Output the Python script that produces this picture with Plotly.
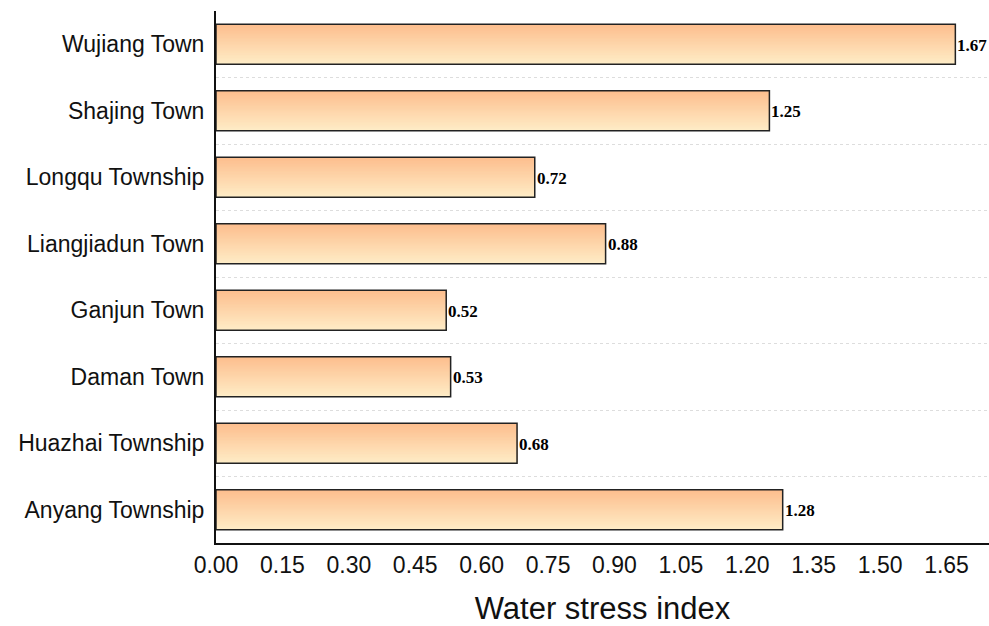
import plotly.graph_objects as go

towns = ["Wujiang Town", "Shajing Town", "Longqu Township", "Liangjiadun Town",
         "Ganjun Town", "Daman Town", "Huazhai Township", "Anyang Township"]
wsi = [1.67, 1.25, 0.72, 0.88, 0.52, 0.53, 0.68, 1.28]
x_ticks = [0.00, 0.15, 0.30, 0.45, 0.60, 0.75, 0.90, 1.05, 1.20, 1.35, 1.50, 1.65]

TOP = (253, 190, 142)
BOT = (254, 236, 198)
N = 40
BW = 0.6

fig = go.Figure()
for k in range(N):
    t = k / (N - 1)
    c = tuple(round(TOP[i] + (BOT[i] - TOP[i]) * t) for i in range(3))
    fig.add_trace(go.Bar(
        y=towns, x=wsi, orientation="h",
        width=BW * (N - k) / N, offset=-BW / 2,
        marker=dict(color="rgb(%d,%d,%d)" % c, line=dict(width=0)),
        showlegend=False, hoverinfo="skip",
    ))

fig.add_trace(go.Bar(
    y=towns, x=wsi, orientation="h",
    width=BW, offset=-BW / 2,
    marker=dict(color="rgba(0,0,0,0)", line=dict(color="#222222", width=1.5)),
    showlegend=False, hoverinfo="skip",
))

for town, v in zip(towns, wsi):
    fig.add_annotation(
        x=v, y=town, text="<b>%.2f</b>" % v, showarrow=False,
        xanchor="left", xshift=0, yshift=-1,
        font=dict(family="Liberation Serif", size=17, color="black"),
    )

fig.update_layout(
    width=989, height=626,
    barmode="overlay",
    plot_bgcolor="white", paper_bgcolor="white",
    margin=dict(l=216, r=0, t=11, b=83, autoexpand=False),
    font=dict(family="Liberation Sans", color="#111111"),
)
fig.update_xaxes(
    range=[0, 1.746], tickvals=x_ticks, ticktext=["%.2f" % v for v in x_ticks],
    showgrid=False, zeroline=False, automargin=False,
    showline=True, linecolor="#111111", linewidth=2,
    ticks="", tickfont=dict(size=23, color="#111111"),
    title=dict(text="Water stress index", font=dict(size=31, color="#111111"), standoff=21),
)
fig.update_yaxes(
    type="category", categoryorder="array", categoryarray=towns[::-1],
    range=[-0.5, 7.5], tickson="boundaries", automargin=False,
    showgrid=True, gridcolor="#dddddd", griddash="dot", gridwidth=1,
    showline=True, linecolor="#111111", linewidth=2,
    ticks="", ticklabelstandoff=5, tickfont=dict(size=23, color="#111111"),
    zeroline=False,
)

fig.write_html(
    "out.html",
    config={"displayModeBar": False},
    post_script="document.body.style.margin='0';document.body.style.overflow='hidden';",
)
